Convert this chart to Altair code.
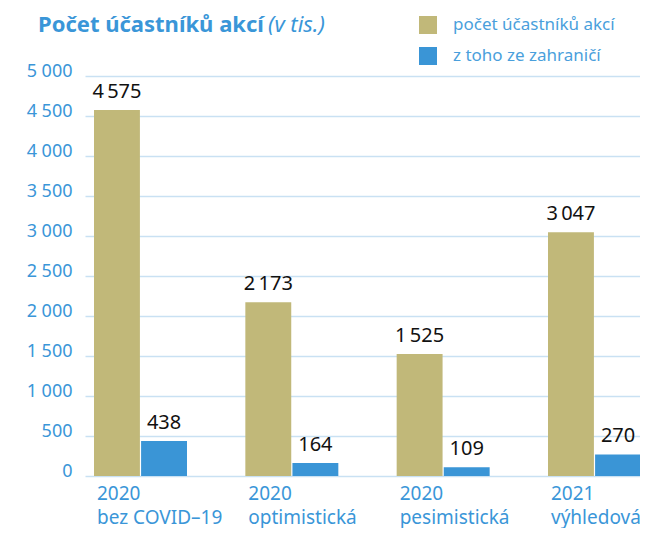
import altair as alt
import pandas as pd

categories = ["2020\nbez COVID–19", "2020\noptimistická", "2020\npesimistická", "2021\nvýhledová"]
series = ["počet účastníků akcí", "z toho ze zahraničí"]
total = [4575, 2173, 1525, 3047]
foreign = [438, 164, 109, 270]
y_ticks = [0, 500, 1000, 1500, 2000, 2500, 3000, 3500, 4000, 4500, 5000]
title_main = "Počet účastníků akcí"
title_unit = "(v tis.)"

rows = []
for c, t, f in zip(categories, total, foreign):
    rows.append({"cat": c, "series": series[0], "value": t})
    rows.append({"cat": c, "series": series[1], "value": f})
df = pd.DataFrame(rows)
df["label"] = df["value"].map(lambda v: f"{v:,}".replace(",", "\u2009"))

FONT = "Noto Sans"
BLUE = "#3A96D8"
LEG_BLUE = "#4A9FDC"
GOLD = "#C1B879"
BAR_BLUE = "#3A95D6"
GRID = "#C9E1F3"

x = alt.X(
    "cat:N",
    sort=categories,
    scale=alt.Scale(range=[0, 565], paddingInner=0.3855, paddingOuter=0.0595),
    axis=alt.Axis(
        title=None,
        labelExpr="split(datum.label, '\\n')",
        labelAlign="left",
        labelBaseline="top",
        labelOffset=-43.5,
        labelPadding=8,
        labelFontSize=19,
        labelColor=BLUE,
        labelFont=FONT,
        labelLineHeight=24,
        labelAngle=0,
        labelLimit=300,
        labelOverlap=False,
        ticks=False,
        domain=False,
        grid=False,
    ),
)
xo = alt.XOffset("series:N", sort=series, scale=alt.Scale(paddingInner=0.025))
y = alt.Y(
    "value:Q",
    scale=alt.Scale(domain=[0, 5000], nice=False),
    axis=alt.Axis(
        title=None,
        values=y_ticks,
        labelExpr="replace(format(datum.value, ','), ',', ' ')",
        labelFontSize=18,
        labelFont=FONT,
        labelColor=BLUE,
        labelPadding=13,
        labelBaseline="alphabetic",
        ticks=False,
        domain=False,
        gridColor=GRID,
        gridWidth=1.5,
    ),
)
color = alt.Color(
    "series:N",
    sort=series,
    scale=alt.Scale(domain=series, range=[GOLD, BAR_BLUE]),
    legend=alt.Legend(
        title=None,
        orient="none",
        legendX=334,
        legendY=-60,
        symbolType="square",
        symbolSize=324,
        symbolStrokeWidth=0,
        labelFontSize=17,
        labelFont=FONT,
        labelColor=LEG_BLUE,
        labelOffset=16,
        labelLimit=300,
        rowPadding=13,
    ),
)

base = alt.Chart(df)
bars = base.mark_bar().encode(x=x, xOffset=xo, y=y, color=color)
labels = base.mark_text(
    baseline="alphabetic", dy=-12, fontSize=20, font=FONT, color="#111111"
).encode(x=x, xOffset=xo, y=y, text="label:N")

t1 = alt.Chart(pd.DataFrame({"t": [title_main]})).mark_text(
    align="left", baseline="alphabetic", fontSize=22, fontWeight="bold", font=FONT, color=BLUE
).encode(text="t:N", x=alt.value(-47), y=alt.value(-44))
t2 = alt.Chart(pd.DataFrame({"t": [title_unit]})).mark_text(
    align="left", baseline="alphabetic", fontSize=22, fontStyle="italic", font=FONT, color=BLUE
).encode(text="t:N", x=alt.value(183), y=alt.value(-44))

chart = (
    alt.layer(bars, labels, t1, t2)
    .properties(
        width=555,
        height=400,
        autosize=alt.AutoSizeParams(type="none"),
        padding={"left": 77, "top": 68, "right": 0, "bottom": 52},
    )
    .configure_view(stroke=None)
)

chart.save("out.html", embed_options={"renderer": "svg", "actions": False})
